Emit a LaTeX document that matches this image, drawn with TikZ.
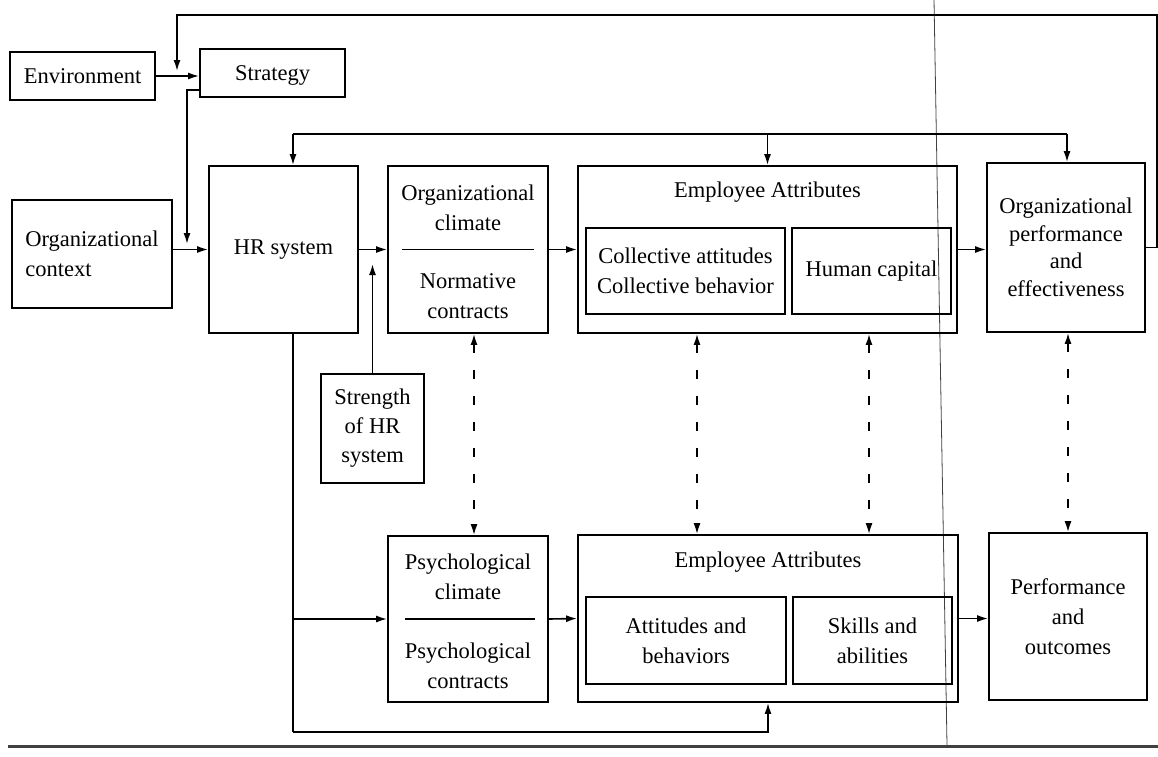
\documentclass[tikz,border=0pt]{standalone}
\usepackage{fontspec}
\setmainfont{Liberation Serif}
\usetikzlibrary{arrows.meta,calc}
\tikzset{
  box/.style={draw, line width=1.8pt, inner sep=0pt, align=center, font=\fontsize{22.5}{30}\selectfont},
  inbox/.style={box, line width=1.6pt},
  txt/.style={align=center, font=\fontsize{22.5}{30}\selectfont, inner sep=0pt},
  arr/.style={line width=1.6pt, -{Latex[length=11pt,width=7pt]}},
  darr/.style={line width=1.6pt, dash pattern=on 9pt off 17pt, {Latex[length=11pt,width=7pt]}-{Latex[length=11pt,width=7pt]}},
  ln/.style={line width=1.6pt},
  sep/.style={line width=1.6pt},
  scan/.style={black!75},
}
\begin{document}
\begin{tikzpicture}[x=1pt,y=-1pt]
\useasboundingbox (0,0) rectangle (1158,756);
% scan artifacts
\draw[scan, line width=0.8pt] (934,0) -- (947,745);
\draw[scan, line width=3pt] (8,746) -- (1158,746);

% top row
\node[box, minimum width=145pt, minimum height=48pt] (env) at (82.5,76) {Environment};
\node[box, minimum width=145pt, minimum height=48pt, text depth=0pt] (strat) at (272.5,73) {Strategy};
\node[box, minimum width=160pt, minimum height=108pt, align=left] (ctx) at (92,254) {Organizational\\context};
\node[box, minimum width=149pt, minimum height=167pt] (hr) at (283.5,249.5) {HR system};
\node[box, minimum width=160pt, minimum height=167pt] (oc) at (468,249.5) {};
\node[txt] (oct) at (468,208) {Organizational\\climate};
\node[txt] (ocb) at (468,296) {Normative\\contracts};
\draw[sep] ([xshift=15pt]oc.west) -- ([xshift=-15pt]oc.east);

\node[box, minimum width=379pt, minimum height=167pt] (ea1) at (767.5,249.5) {};
\node[txt] (ea1t) at (767.5,192) {Employee Attributes};
\node[inbox, minimum width=199pt, minimum height=86pt] (ca) at (685.5,271) {Collective attitudes\\Collective behavior};
\node[inbox, minimum width=159pt, minimum height=86pt] (hc) at (871.5,271) {Human capital};
\node[box, minimum width=158pt, minimum height=169pt, font=\fontsize{22.5}{27.5}\selectfont] (op) at (1066,247.5) {Organizational\\performance\\and\\effectiveness};

\node[box, minimum width=103pt, minimum height=109pt, font=\fontsize{22.5}{29}\selectfont] (str) at (372.5,428.5) {Strength\\of HR\\system};

% bottom row
\node[box, minimum width=160pt, minimum height=166pt] (pc) at (468,619) {};
\node[txt] (pct) at (468,577) {Psychological\\climate};
\node[txt] (pcb) at (468,666) {Psychological\\contracts};
\draw[sep] ([xshift=18pt]pc.west) -- ([xshift=-14pt]pc.east);

\node[box, minimum width=380pt, minimum height=167pt] (ea2) at (768,618.5) {};
\node[txt] (ea2t) at (768,562) {Employee Attributes};
\node[inbox, minimum width=200pt, minimum height=87pt] (ab) at (686,640.5) {Attitudes and\\behaviors};
\node[inbox, minimum width=159pt, minimum height=87pt] (sa) at (872.5,640.5) {Skills and\\abilities};
\node[box, minimum width=158pt, minimum height=167pt] (perf) at (1068,616.5) {Performance\\and\\outcomes};

% coordinates
\coordinate (fbR) at (1157,15);
\coordinate (fbend) at (177,71);
\coordinate (s2) at (187,244);
\coordinate (strtip) at (372.5,264);
\coordinate (t1) at (293,134);
\coordinate (t3) at (1067,134);
\coordinate (b1) at (293,732);
\coordinate (d1) at (474,0);
\coordinate (d2) at (697,0);
\coordinate (d3) at (869,0);
\coordinate (d4) at (1068,0);

% connectors
\draw[arr] (env.east) -- (env.east -| strat.west);
\draw[arr] (op.east) -| (fbR) -| (fbend);
\draw[arr] ([yshift=8pt]strat.south west) -| (s2);
\draw[arr] (ctx.east |- hr.west) -- (hr.west);
\draw[arr] (hr.east) -- (oc.west);
\draw[arr] (str.north) -- (strtip);
\draw[arr] (oc.east) -- (ea1.west);
\draw[arr] (ea1.east) -- (ea1.east -| op.west);

\draw[ln] (t1) -- (t3);
\draw[arr] (t1) -- (t1 |- hr.north);
\draw[arr] (ea1.north |- t1) -- (ea1.north);
\draw[arr] (t3) -- (t3 |- op.north);

\draw[ln] (hr.south -| b1) -- (b1);
\draw[arr] (b1 |- pc.west) -- (pc.west);
\draw[arr] (b1) -| (ea2.south);
\draw[arr] (pc.east) -- (ea2.west);
\draw[arr] (ea2.east) -- (ea2.east -| perf.west);

\draw[darr] (d1 |- oc.south) -- (d1 |- pc.north);
\draw[darr] (d2 |- ea1.south) -- (d2 |- ea2.north);
\draw[darr] (d3 |- ea1.south) -- (d3 |- ea2.north);
\draw[darr] (d4 |- op.south) -- (d4 |- perf.north);
\end{tikzpicture}
\end{document}
